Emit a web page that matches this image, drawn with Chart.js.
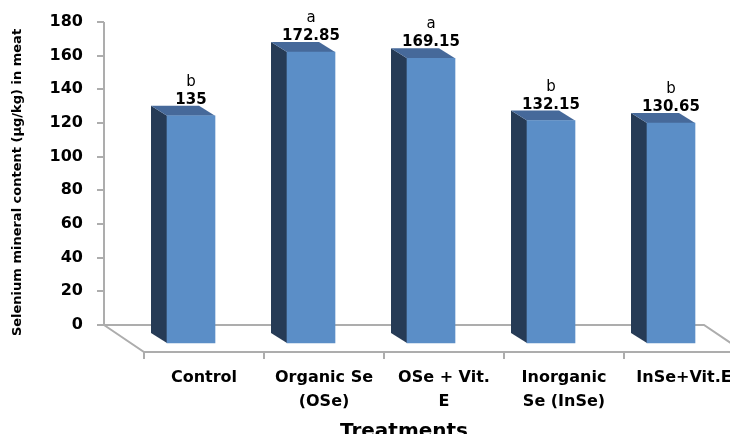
<!DOCTYPE html>
<html>
<head>
<meta charset="utf-8">
<script src="https://cdn.jsdelivr.net/npm/chart.js@4"></script>
<style>
  html, body { margin: 0; padding: 0; background: #fff; }
  #wrap { width: 730px; height: 434px; }
</style>
</head>
<body>
<div id="wrap"><canvas id="chart"></canvas></div>
<script>
// chart data
var treatments = [['Control'], ['Organic Se', '(OSe)'], ['OSe + Vit.', 'E'], ['Inorganic', 'Se (InSe)'], ['InSe+Vit.E']];
var selenium = [135, 172.85, 169.15, 132.15, 130.65];
var letters = ['b', 'a', 'a', 'b', 'b'];
var yTicks = [0, 20, 40, 60, 80, 100, 120, 140, 160, 180];

// 3D look
var floorDx = 40, floorDy = 27;   // depth of the floor
var barDx = 27, barDy = 18;       // where the bar front sits
var sideDx = 16, sideDy = 10;     // bar depth
var gray = '#ADADAD';

var ctx = document.getElementById('chart').getContext('2d');

var threeD = {
    id: 'threeD',
    beforeDatasetsDraw: function (chart) {
        var c = chart.ctx, y = chart.scales.y;
        var y0 = y.getPixelForValue(0), yTop = y.getPixelForValue(180);
        var left = chart.chartArea.left, right = chart.chartArea.right;
        c.save();
        c.strokeStyle = gray;
        c.lineWidth = 2;
        // y axis line and tick marks
        c.beginPath();
        c.moveTo(left, yTop);
        c.lineTo(left, y0);
        yTicks.forEach(function (v) {
            var p = Math.round(y.getPixelForValue(v));
            c.moveTo(left - 7, p);
            c.lineTo(left, p);
        });
        // floor
        c.moveTo(left, y0);
        c.lineTo(right, y0);
        c.lineTo(right + floorDx, y0 + floorDy);
        c.moveTo(left, y0);
        c.lineTo(left + floorDx, y0 + floorDy);
        c.lineTo(right + floorDx, y0 + floorDy);
        // category tick marks on the front edge
        var step = (right - left) / treatments.length;
        for (var i = 0; i <= treatments.length; i++) {
            var px = left + floorDx + i * step;
            c.moveTo(px, y0 + floorDy);
            c.lineTo(px, y0 + floorDy + 7);
        }
        c.stroke();

        // side and top faces of the bars
        c.translate(barDx, barDy);
        chart.getDatasetMeta(0).data.forEach(function (bar) {
            var w = bar.width, l = bar.x - w / 2, r = bar.x + w / 2;
            c.fillStyle = '#263B56';
            c.beginPath();
            c.moveTo(l, bar.y);
            c.lineTo(l - sideDx, bar.y - sideDy);
            c.lineTo(l - sideDx, bar.base - sideDy);
            c.lineTo(l, bar.base);
            c.closePath();
            c.fill();
            c.fillStyle = '#46699A';
            c.beginPath();
            c.moveTo(l, bar.y);
            c.lineTo(r, bar.y);
            c.lineTo(r - sideDx, bar.y - sideDy);
            c.lineTo(l - sideDx, bar.y - sideDy);
            c.closePath();
            c.fill();
        });
        c.restore();
        // front faces drawn by Chart.js in the same shifted frame
        c.save();
        c.translate(barDx, barDy);
    },
    afterDatasetsDraw: function (chart) {
        var c = chart.ctx;
        c.restore();
        c.save();
        c.fillStyle = '#000';
        c.textAlign = 'center';
        chart.getDatasetMeta(0).data.forEach(function (bar, i) {
            var cx = bar.x + barDx, top = bar.y + barDy;
            c.font = 'bold 15px "DejaVu Sans"';
            c.fillText(String(selenium[i]), cx, top - 12);
            c.font = '15px "DejaVu Sans"';
            c.fillText(letters[i], cx, top - 30);
        });
        c.restore();
    }
};

var myChart = new Chart(ctx, {
    type: 'bar',
    data: {
        labels: treatments,
        datasets: [{
            data: selenium,
            backgroundColor: '#5B8EC7',
            barThickness: 48
        }]
    },
    options: {
        responsive: true,
        maintainAspectRatio: false,
        animation: false,
        layout: {
            padding: { left: 0, top: 22, right: 26, bottom: 0 }
        },
        plugins: {
            legend: { display: false },
            tooltip: { enabled: false }
        },
        scales: {
            x: {
                grid: { display: false, drawTicks: false },
                border: { display: false },
                ticks: {
                    color: '#000',
                    font: { family: 'DejaVu Sans', weight: 'bold', size: 16, lineHeight: 1.5 },
                    labelOffset: floorDx,
                    padding: 23,
                    maxRotation: 0,
                    autoSkip: false
                },
                title: {
                    display: true,
                    text: 'Treatments',
                    color: '#000',
                    font: { family: 'DejaVu Sans', weight: 'bold', size: 20 },
                    padding: { top: 0, bottom: -10 }
                },
                afterFit: function (scale) {
                    scale.height = 91;
                    scale.paddingLeft = 0;
                    scale.paddingRight = 0;
                }
            },
            y: {
                min: -10.7,
                max: 180,
                grid: { display: false, drawTicks: false },
                border: { display: false },
                ticks: {
                    stepSize: 20,
                    color: '#000',
                    padding: 21,
                    font: { family: 'DejaVu Sans', weight: 'bold', size: 16 }
                },
                afterBuildTicks: function (scale) {
                    scale.ticks = yTicks.map(function (v) { return { value: v }; });
                },
                title: {
                    display: true,
                    text: 'Selenium mineral content (µg/kg) in meat',
                    color: '#000',
                    font: { family: 'DejaVu Sans', weight: 'bold', size: 13 },
                    padding: { top: 10, bottom: 4 }
                },
                afterFit: function (scale) {
                    scale.width = 104;
                    scale.paddingTop = 0;
                    scale.paddingBottom = 0;
                }
            }
        }
    },
    plugins: [threeD]
});
</script>
</body>
</html>
